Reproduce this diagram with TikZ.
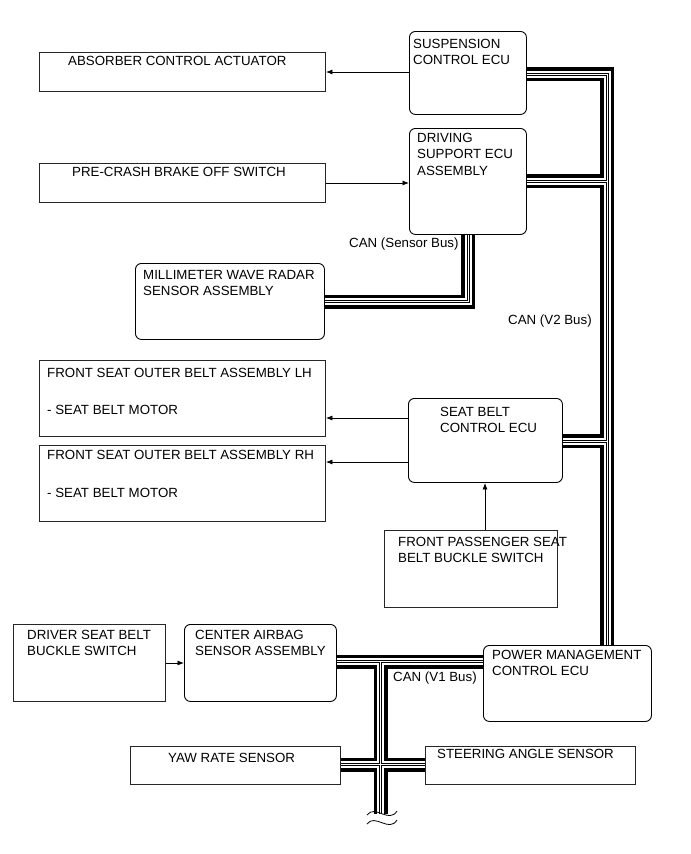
\documentclass[tikz,border=0pt]{standalone}
\usepackage{fontspec}
\setmainfont{Liberation Sans}
\usetikzlibrary{arrows.meta}
\begin{document}
\begin{tikzpicture}[x=1bp,y=-1bp,
  sq/.style={draw=black!85, line width=0.9bp, anchor=north west, inner sep=0pt},
  rnd/.style={sq, draw=black, rounded corners=6bp},
  txt/.style={anchor=north west, inner sep=0pt, align=left,
    font=\fontsize{13.3bp}{16.5bp}\selectfont},
  sig/.style={line width=0.8bp, -{Latex[length=6.5bp,width=5bp]}},
]
\useasboundingbox[fill=white] (0,0) rectangle (691,854);

% boxes
\node[sq, minimum width=286bp, minimum height=39bp] (abs) at (39,52) {};
\node[sq, minimum width=286bp, minimum height=39bp] (pcs) at (39,163) {};
\node[rnd, minimum width=117bp, minimum height=83bp] (susp) at (409,31) {};
\node[rnd, minimum width=117bp, minimum height=106bp] (dsa) at (409,128) {};
\node[rnd, minimum width=189bp, minimum height=76bp] (mwr) at (135,263) {};
\node[sq, minimum width=286bp, minimum height=76bp] (lh) at (39,360) {};
\node[sq, minimum width=286bp, minimum height=76bp] (rh) at (39,445) {};
\node[rnd, minimum width=154bp, minimum height=84bp] (sbe) at (408,398) {};
\node[sq, minimum width=173bp, minimum height=77bp] (fps) at (384,530) {};
\node[sq, minimum width=152bp, minimum height=77bp] (dsb) at (13,624) {};
\node[rnd, minimum width=152bp, minimum height=77bp] (cas) at (184,624) {};
\node[rnd, minimum width=168bp, minimum height=76bp] (pm) at (483,645) {};
\node[sq, minimum width=210bp, minimum height=38bp] (yaw) at (130,746) {};
\node[sq, minimum width=210bp, minimum height=38bp] (sas) at (425,746) {};

% texts
\node[txt] (tabs) at (68,56) {ABSORBER CONTROL ACTUATOR};
\node[txt] (tpcs) at (72,167) {PRE-CRASH BRAKE OFF SWITCH};
\node[txt] (tsusp) at (413,39) {SUSPENSION\\CONTROL ECU};
\node[txt] (tdsa) at (417,133) {DRIVING\\SUPPORT ECU\\ASSEMBLY};
\node[txt] (tsb) at (349,238) {CAN (Sensor Bus)};
\node[txt] (tmwr) at (143,270) {MILLIMETER WAVE RADAR\\SENSOR ASSEMBLY};
\node[txt] (tv2) at (508,315) {CAN (V2 Bus)};
\node[txt] (tlh) at (47,368) {FRONT SEAT OUTER BELT ASSEMBLY LH};
\node[txt] (tlhm) at (47,405) {- SEAT BELT MOTOR};
\node[txt] (trh) at (47,450) {FRONT SEAT OUTER BELT ASSEMBLY RH};
\node[txt] (trhm) at (47,488) {- SEAT BELT MOTOR};
\node[txt] (tsbe) at (440,407) {SEAT BELT\\CONTROL ECU};
\node[txt] (tfps) at (398,537) {FRONT PASSENGER SEAT\\BELT BUCKLE SWITCH};
\node[txt] (tdsb) at (27,630) {DRIVER SEAT BELT\\BUCKLE SWITCH};
\node[txt] (tcas) at (195,630) {CENTER AIRBAG\\SENSOR ASSEMBLY};
\node[txt] (tpm) at (492,650) {POWER MANAGEMENT\\CONTROL ECU};
\node[txt] (tv1) at (393,672) {CAN (V1 Bus)};
\node[txt] (tyaw) at (168,753) {YAW RATE SENSOR};
\node[txt] (tsas) at (437,749) {STEERING ANGLE SENSOR};

% bus junction coordinates
\coordinate (v2top) at (607,74);
\coordinate (v2dsa) at (607,181);
\coordinate (v2sbe) at (607,441);
\coordinate (sbc) at (468,301.5);
\coordinate (v1j) at (380.5,661.5);
\coordinate (v1x) at (380.5,764.5);
\coordinate (v1end) at (380.5,814);

% buses (layered)
\foreach \w/\c in {14/black,7/white,3/black,1/white}{
  \draw[line width=\w bp, draw=\c, line cap=butt, line join=miter]
    (susp.east |- v2top) -- (v2top) -- (v2top |- pm.north)
    (dsa.east |- v2dsa) -- (v2dsa)
    (sbe.east |- v2sbe) -- (v2sbe)
    (mwr.east |- sbc) -- (sbc) -- (sbc |- dsa.south)
    (cas.east |- v1j) -- (pm.west |- v1j)
    (v1j) -- (v1end)
    (yaw.east |- v1x) -- (sas.west |- v1x);
}

% bus break symbol
\draw[line width=0.8bp] (367,815) .. controls (375,804) and (389,824) .. (397,811);
\draw[line width=0.8bp] (367,824) .. controls (375,813) and (389,833) .. (397,820);

% signal arrows
\draw[sig] (susp.west |- 0,72) -- (abs.east |- 0,72);
\draw[sig] (pcs.east |- 0,183) -- (dsa.west |- 0,183);
\draw[sig] (sbe.west |- 0,418) -- (lh.east |- 0,418);
\draw[sig] (sbe.west |- 0,462) -- (rh.east |- 0,462);
\draw[sig] (fps.north -| 485,0) -- (sbe.south -| 485,0);
\draw[sig] (dsb.east |- 0,663) -- (cas.west |- 0,663);
\end{tikzpicture}
\end{document}
